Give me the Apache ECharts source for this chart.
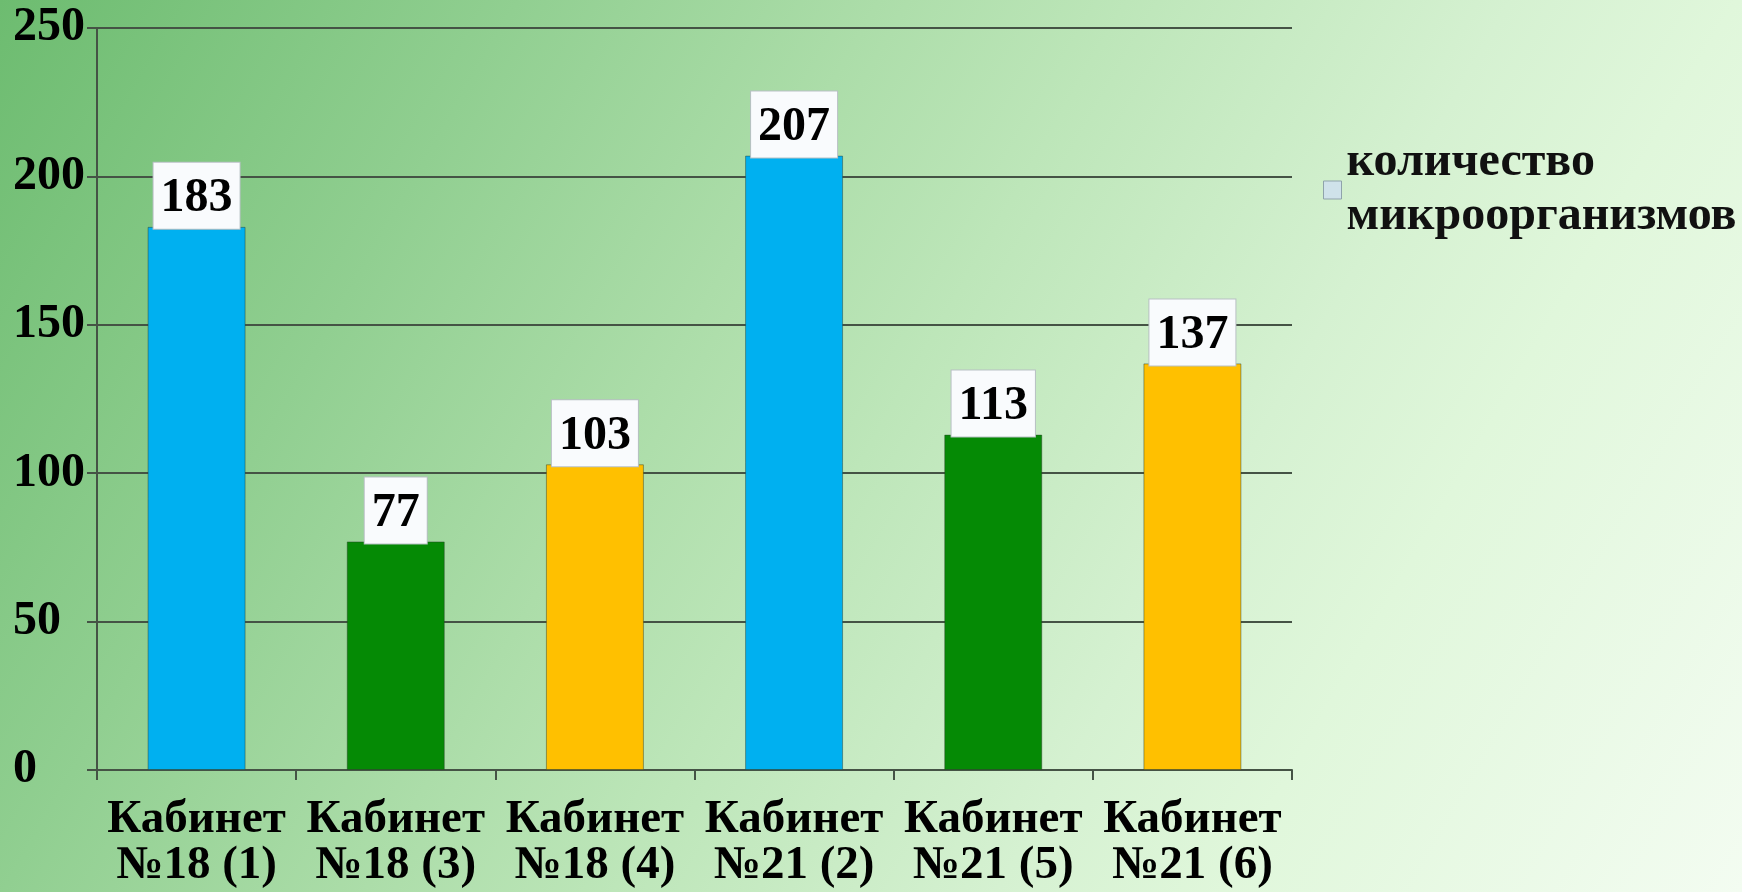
<!DOCTYPE html>
<html>
<head>
<meta charset="utf-8">
<script src="https://cdn.jsdelivr.net/npm/echarts@6/dist/echarts.min.js"></script>
<style>
html,body{margin:0;padding:0;width:1742px;height:892px;overflow:hidden;}
#chart{width:1742px;height:892px;}
</style>
</head>
<body>
<div id="chart"></div>
<script>
const categories = ['Кабинет\n№18 (1)', 'Кабинет\n№18 (3)', 'Кабинет\n№18 (4)', 'Кабинет\n№21 (2)', 'Кабинет\n№21 (5)', 'Кабинет\n№21 (6)'];
const values = [183, 77, 103, 207, 113, 137];
const seriesName = 'количество\nмикроорганизмов';
const barColors = ['#00b0f0', '#058a05', '#ffc000', '#00b0f0', '#058a05', '#ffc000'];
const yMin = 0, yMax = 250, yStep = 50;

const FONT = '"Liberation Serif", "Times New Roman", serif';
const lineColor = '#455345';

const chart = echarts.init(document.getElementById('chart'), null, {renderer: 'canvas'});
chart.setOption({
  animation: false,
  backgroundColor: {
    type: 'linear', x: 0, y: 0, x2: 0.971, y2: 1.095,
    colorStops: [
      {offset: 0, color: '#6dbc70'},
      {offset: 0.23, color: '#91cf91'},
      {offset: 0.39, color: '#acdda9'},
      {offset: 0.5, color: '#bde6b9'},
      {offset: 0.67, color: '#d5f1d1'},
      {offset: 0.77, color: '#e0f7db'},
      {offset: 1, color: '#f3fcf1'}
    ]
  },
  grid: {left: 97, right: 450, top: 28, bottom: 122, containLabel: false},
  legend: {
    orient: 'vertical',
    left: 1323, top: 136, padding: 0,
    itemWidth: 18, itemHeight: 18,
    icon: 'rect',
    data: [{name: seriesName, itemStyle: {color: '#cfe2ea', borderColor: '#8fa3ab', borderWidth: 1}}],
    textStyle: {fontFamily: FONT, fontSize: 48, fontWeight: 'bold', lineHeight: 54, color: '#111'}
  },
  xAxis: {
    type: 'category',
    data: categories,
    axisLine: {show: true, lineStyle: {color: lineColor, width: 2}},
    axisTick: {show: true, length: 10, lineStyle: {color: lineColor, width: 2}},
    axisLabel: {fontFamily: FONT, fontSize: 47, fontWeight: 'bold', lineHeight: 46, color: '#000', margin: 27, interval: 0}
  },
  yAxis: {
    type: 'value',
    min: yMin, max: yMax, interval: yStep,
    axisLine: {show: true, lineStyle: {color: lineColor, width: 2}},
    axisTick: {show: true, length: 10, lineStyle: {color: lineColor, width: 2}},
    splitLine: {show: true, lineStyle: {color: lineColor, width: 2}},
    axisLabel: {fontFamily: FONT, fontSize: 48, fontWeight: 'bold', color: '#000', margin: 84, align: 'left', padding: [7, 0, 0, 0]}
  },
  series: [{
    name: seriesName,
    type: 'bar',
    barWidth: 98,
    data: values.map((v, i) => ({value: v, itemStyle: {color: barColors[i]}})),
    itemStyle: {borderColor: 'rgba(40,60,40,0.45)', borderWidth: 1},
    label: {
      show: true, position: 'top', distance: -2,
      fontFamily: FONT, fontSize: 48, fontWeight: 'bold', color: '#000',
      backgroundColor: '#f9fbfd', borderColor: '#b8c0c4', borderWidth: 1,
      padding: [12, 7, 6, 7]
    }
  }]
});
</script>
</body>
</html>
